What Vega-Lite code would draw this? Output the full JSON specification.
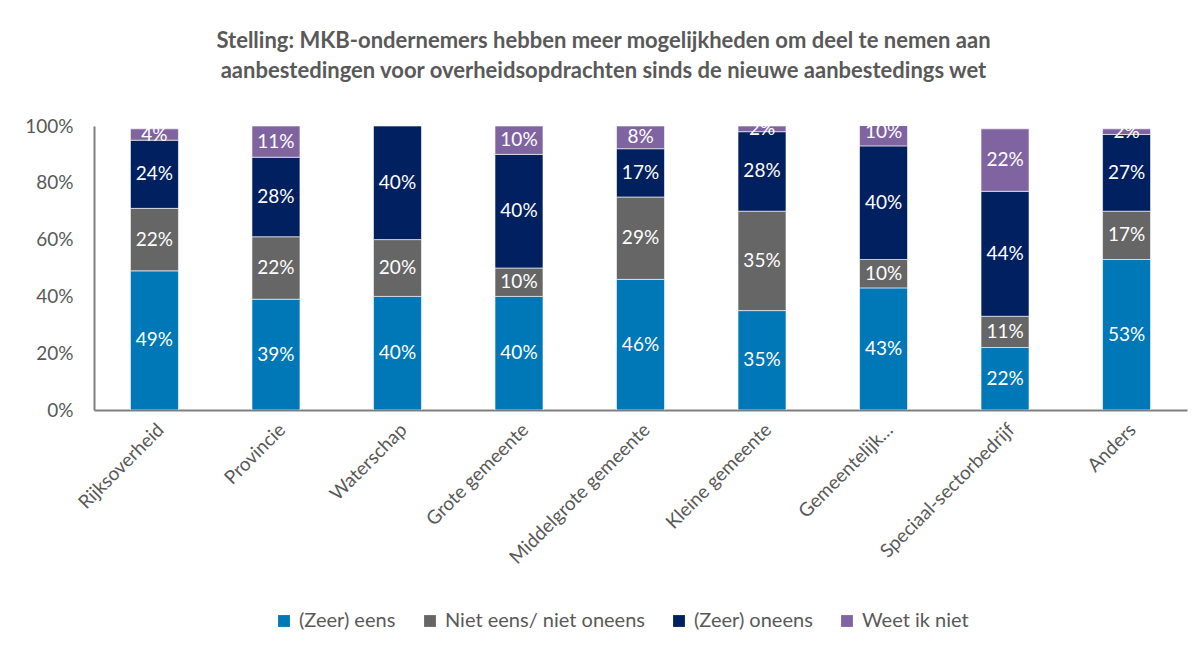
{
  "$schema": "https://vega.github.io/schema/vega-lite/v6.json",
  "autosize": {"type": "none"},
  "width": 1093,
  "height": 284,
  "padding": {"left": 94, "top": 126, "right": 15, "bottom": 239},
  "background": "white",
  "title": {
    "text": ["Stelling: MKB-ondernemers hebben meer mogelijkheden om deel te nemen aan", "aanbestedingen voor overheidsopdrachten sinds de nieuwe aanbestedings wet"],
    "font": "Lato",
    "fontSize": 22,
    "fontWeight": "bold",
    "color": "#595959",
    "anchor": "middle",
    "frame": "group",
    "dx": -37,
    "offset": 34,
    "lineHeight": 30
  },
  "config": {
    "view": {"stroke": null},
    "font": "Lato"
  },
  "data": {
    "values": [
      {"cat": "Rijksoverheid", "serie": "(Zeer) eens", "k": 1, "value": 0.49},
      {"cat": "Rijksoverheid", "serie": "Niet eens/ niet oneens", "k": 2, "value": 0.22},
      {"cat": "Rijksoverheid", "serie": "(Zeer) oneens", "k": 3, "value": 0.24},
      {"cat": "Rijksoverheid", "serie": "Weet ik niet", "k": 4, "value": 0.04},
      {"cat": "Provincie", "serie": "(Zeer) eens", "k": 1, "value": 0.39},
      {"cat": "Provincie", "serie": "Niet eens/ niet oneens", "k": 2, "value": 0.22},
      {"cat": "Provincie", "serie": "(Zeer) oneens", "k": 3, "value": 0.28},
      {"cat": "Provincie", "serie": "Weet ik niet", "k": 4, "value": 0.11},
      {"cat": "Waterschap", "serie": "(Zeer) eens", "k": 1, "value": 0.40},
      {"cat": "Waterschap", "serie": "Niet eens/ niet oneens", "k": 2, "value": 0.20},
      {"cat": "Waterschap", "serie": "(Zeer) oneens", "k": 3, "value": 0.40},
      {"cat": "Grote gemeente", "serie": "(Zeer) eens", "k": 1, "value": 0.40},
      {"cat": "Grote gemeente", "serie": "Niet eens/ niet oneens", "k": 2, "value": 0.10},
      {"cat": "Grote gemeente", "serie": "(Zeer) oneens", "k": 3, "value": 0.40},
      {"cat": "Grote gemeente", "serie": "Weet ik niet", "k": 4, "value": 0.10},
      {"cat": "Middelgrote gemeente", "serie": "(Zeer) eens", "k": 1, "value": 0.46},
      {"cat": "Middelgrote gemeente", "serie": "Niet eens/ niet oneens", "k": 2, "value": 0.29},
      {"cat": "Middelgrote gemeente", "serie": "(Zeer) oneens", "k": 3, "value": 0.17},
      {"cat": "Middelgrote gemeente", "serie": "Weet ik niet", "k": 4, "value": 0.08},
      {"cat": "Kleine gemeente", "serie": "(Zeer) eens", "k": 1, "value": 0.35},
      {"cat": "Kleine gemeente", "serie": "Niet eens/ niet oneens", "k": 2, "value": 0.35},
      {"cat": "Kleine gemeente", "serie": "(Zeer) oneens", "k": 3, "value": 0.28},
      {"cat": "Kleine gemeente", "serie": "Weet ik niet", "k": 4, "value": 0.02},
      {"cat": "Gemeentelijk…", "serie": "(Zeer) eens", "k": 1, "value": 0.43},
      {"cat": "Gemeentelijk…", "serie": "Niet eens/ niet oneens", "k": 2, "value": 0.10},
      {"cat": "Gemeentelijk…", "serie": "(Zeer) oneens", "k": 3, "value": 0.40},
      {"cat": "Gemeentelijk…", "serie": "Weet ik niet", "k": 4, "value": 0.10},
      {"cat": "Speciaal-sectorbedrijf", "serie": "(Zeer) eens", "k": 1, "value": 0.22},
      {"cat": "Speciaal-sectorbedrijf", "serie": "Niet eens/ niet oneens", "k": 2, "value": 0.11},
      {"cat": "Speciaal-sectorbedrijf", "serie": "(Zeer) oneens", "k": 3, "value": 0.44},
      {"cat": "Speciaal-sectorbedrijf", "serie": "Weet ik niet", "k": 4, "value": 0.22},
      {"cat": "Anders", "serie": "(Zeer) eens", "k": 1, "value": 0.53},
      {"cat": "Anders", "serie": "Niet eens/ niet oneens", "k": 2, "value": 0.17},
      {"cat": "Anders", "serie": "(Zeer) oneens", "k": 3, "value": 0.27},
      {"cat": "Anders", "serie": "Weet ik niet", "k": 4, "value": 0.02}
    ]
  },
  "transform": [
    {"stack": "value", "groupby": ["cat"], "sort": [{"field": "k", "order": "ascending"}], "as": ["y0", "y1"]},
    {"calculate": "(datum.y0 + datum.y1) / 2", "as": "ymid"}
  ],
  "encoding": {
    "x": {
      "field": "cat",
      "type": "nominal",
      "sort": null,
      "title": null,
      "scale": {"paddingInner": 0.605, "paddingOuter": 0.3},
      "axis": {
        "labelAngle": -45,
        "labelFontSize": 19,
        "labelColor": "#595959",
        "labelFont": "Lato",
        "ticks": false,
        "labelPadding": 10,
        "labelLimit": 300,
        "domainColor": "#7f7f7f",
        "domainWidth": 2
      }
    }
  },
  "layer": [
    {
      "mark": {"type": "bar", "clip": true, "stroke": "#ffffff", "strokeWidth": 0.6},
      "encoding": {
        "y": {
          "field": "y0",
          "type": "quantitative",
          "scale": {"domain": [0, 1], "nice": false},
          "title": null,
          "axis": {
            "format": ".0%",
            "values": [0, 0.2, 0.4, 0.6, 0.8, 1],
            "labelOverlap": false,
            "grid": false,
            "ticks": false,
            "labelFontSize": 19,
            "labelColor": "#595959",
            "labelPadding": 21,
            "domainColor": "#7f7f7f",
            "domainWidth": 2
          }
        },
        "y2": {"field": "y1"},
        "color": {
          "field": "serie",
          "type": "nominal",
          "scale": {
            "domain": ["(Zeer) eens", "Niet eens/ niet oneens", "(Zeer) oneens", "Weet ik niet"],
            "range": ["#0077b6", "#666666", "#002060", "#8064a2"]
          },
          "legend": {
            "title": null,
            "orient": "none",
            "direction": "horizontal",
            "legendX": 180,
            "legendY": 485,
            "symbolType": "square",
            "symbolSize": 140,
            "symbolStrokeWidth": 0,
            "labelFontSize": 20,
            "labelColor": "#595959",
            "labelOffset": 5,
            "columnPadding": 24,
            "labelLimit": 300
          }
        }
      }
    },
    {
      "mark": {"type": "text", "color": "white", "fontSize": 19, "baseline": "middle", "align": "center"},
      "encoding": {
        "y": {"field": "ymid", "type": "quantitative", "scale": {"domain": [0, 1], "nice": false}},
        "text": {"field": "value", "type": "quantitative", "format": ".0%"}
      }
    }
  ]
}
